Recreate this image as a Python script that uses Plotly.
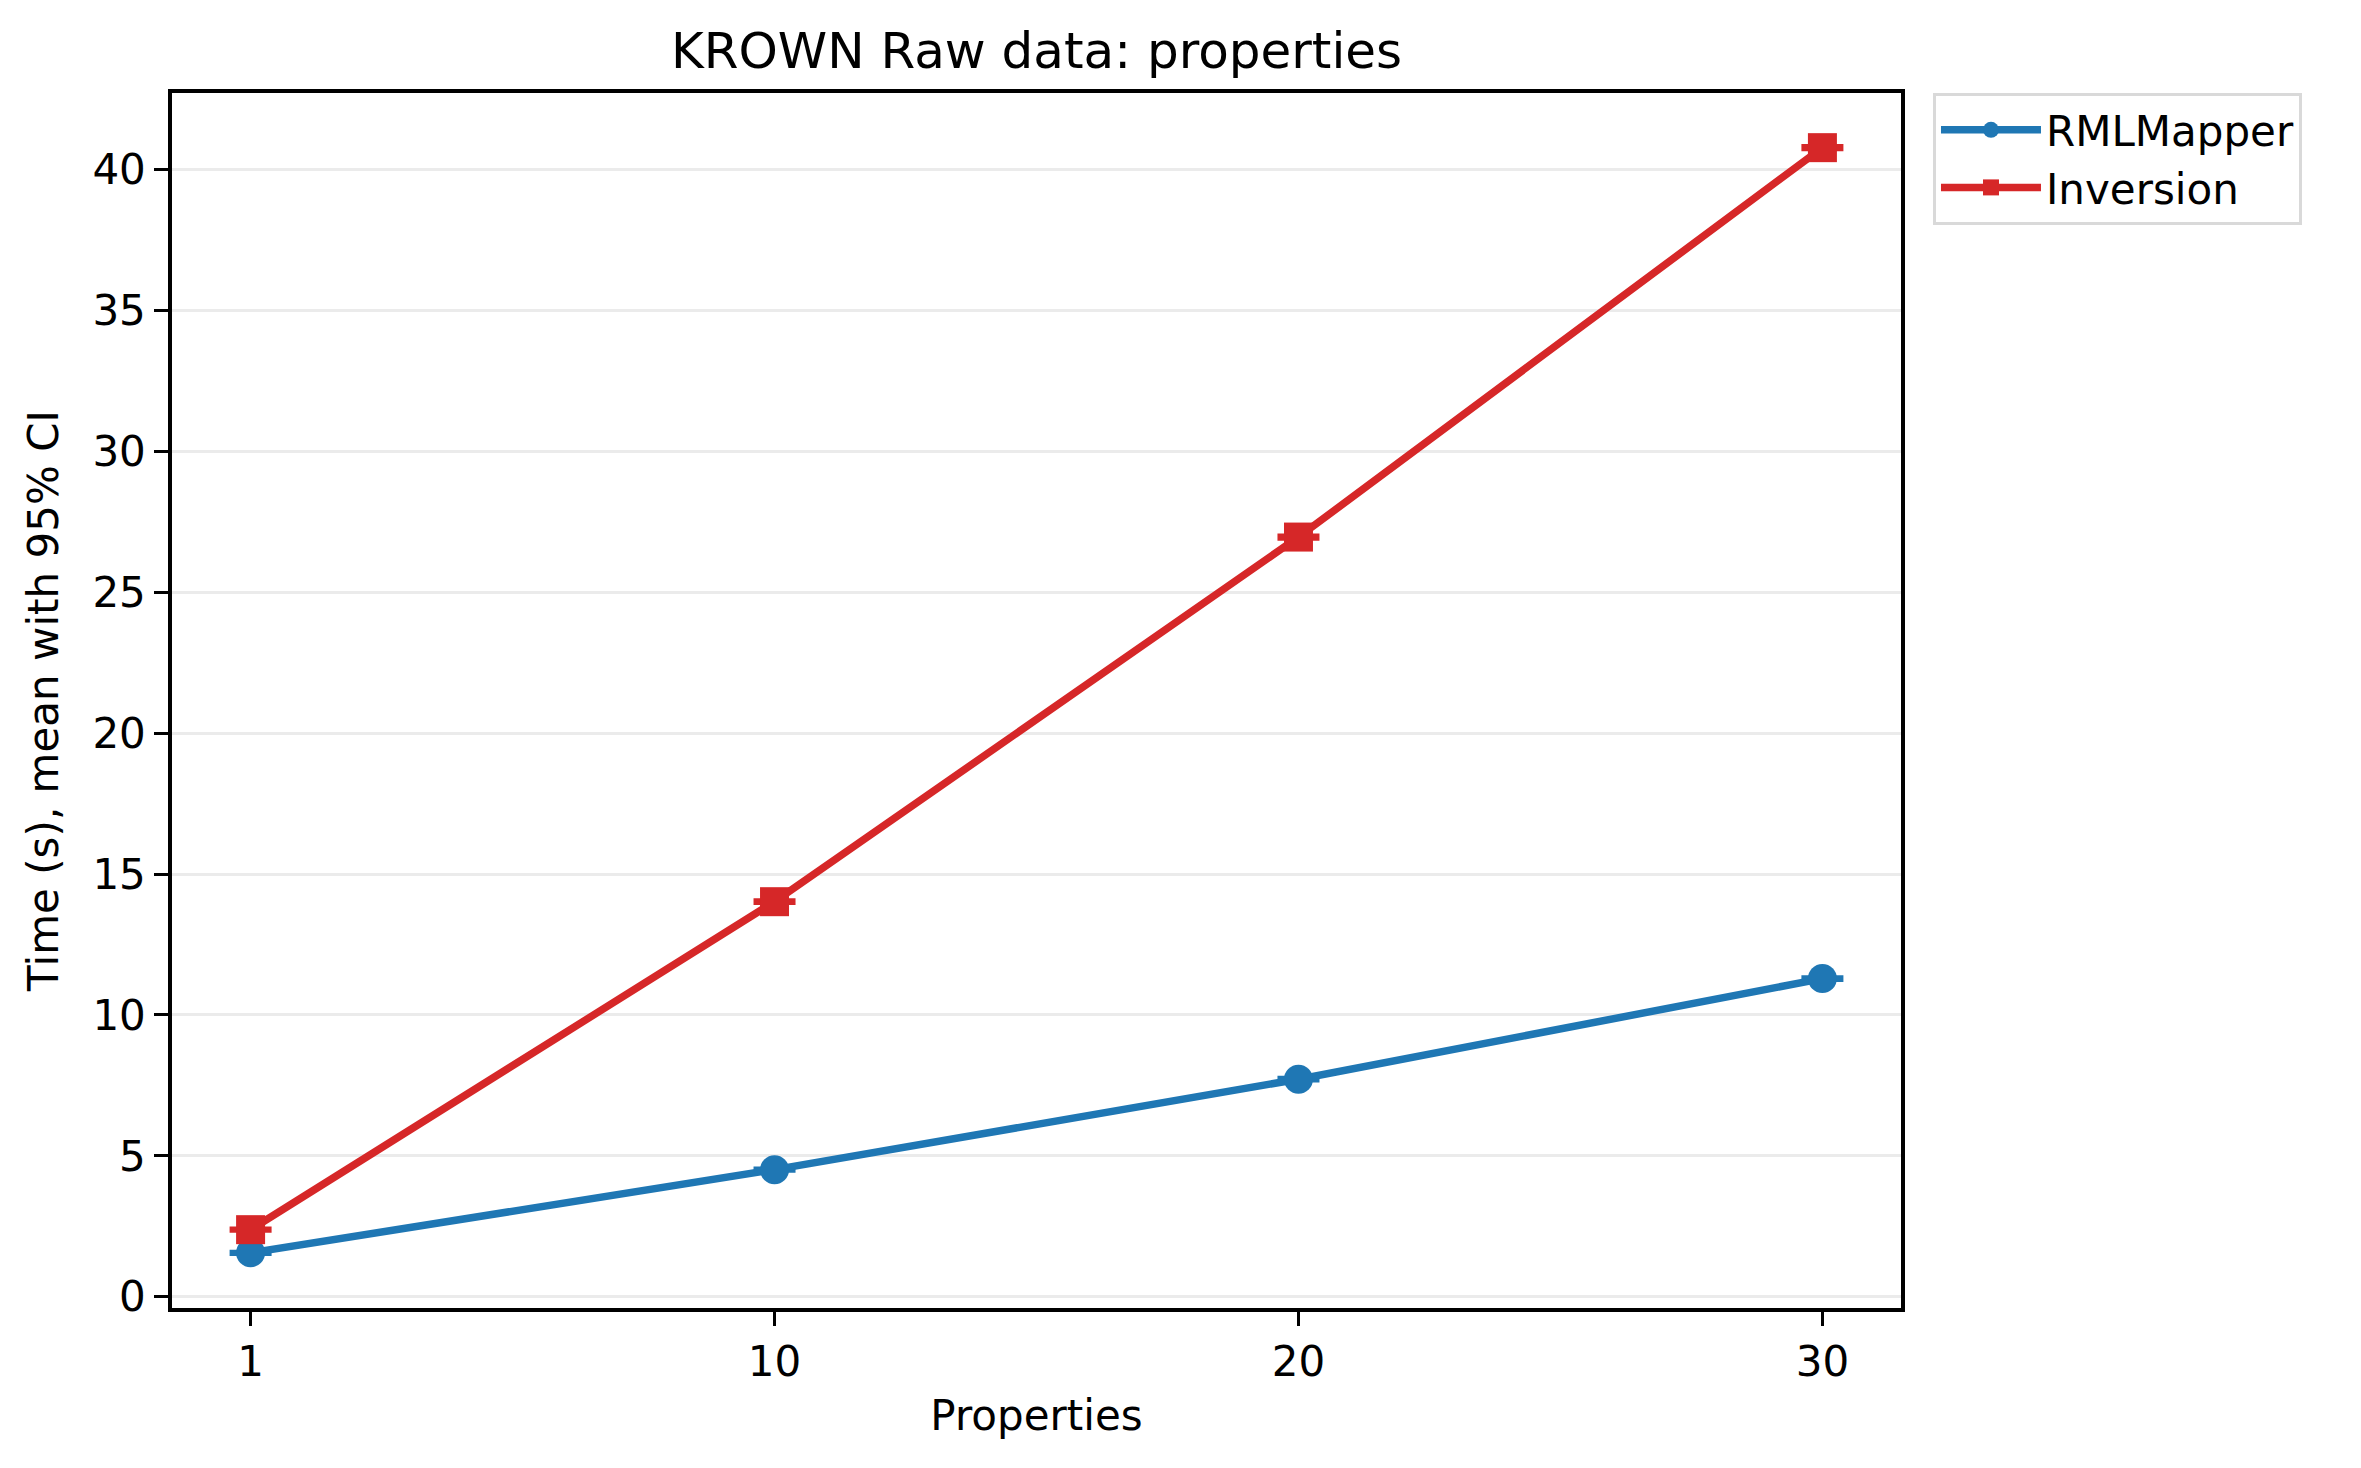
import plotly.graph_objects as go

categories = ["1", "10", "20", "30"]
rml_mean = [1.56, 4.51, 7.72, 11.29]
rml_ci = [0.04, 0.04, 0.05, 0.05]
inv_mean = [2.38, 14.02, 26.96, 40.78]
inv_ci = [0.04, 0.05, 0.06, 0.06]
y_ticks = [0, 5, 10, 15, 20, 25, 30, 35, 40]

W, H = 2361, 1468
L, R, T, B = 172, 460, 93, 160
FONT = "DejaVu Sans"

fig = go.Figure()
fig.add_trace(go.Scatter(
    x=categories, y=rml_mean, name="RMLMapper", mode="lines+markers",
    line=dict(color="#1f77b4", width=7.5),
    marker=dict(symbol="circle", size=29, color="#1f77b4"),
    error_y=dict(type="data", array=rml_ci, visible=True, color="#1f77b4", thickness=4, width=21),
))
fig.add_trace(go.Scatter(
    x=categories, y=inv_mean, name="Inversion", mode="lines+markers",
    line=dict(color="#d62728", width=7.5),
    marker=dict(symbol="square", size=29, color="#d62728"),
    error_y=dict(type="data", array=inv_ci, visible=True, color="#d62728", thickness=4, width=21),
))

fig.update_layout(
    width=W, height=H,
    margin=dict(l=L, r=R, t=T, b=B, autoexpand=False),
    paper_bgcolor="white", plot_bgcolor="white",
    font=dict(family=FONT, size=42, color="black"),
    title=dict(text="KROWN Raw data: properties", x=(L + (W - R)) / 2 / W, xanchor="center",
               y=1 - 50 / H, yanchor="middle", font=dict(size=50, family=FONT)),
    legend=dict(x=1.0185, y=1.0, xanchor="left", yanchor="top",
                bordercolor="#d9d9d9", borderwidth=3, bgcolor="white",
                font=dict(size=42, family=FONT), itemsizing="trace",
                itemwidth=100, tracegroupgap=0),
)
fig.update_xaxes(
    type="category", range=[-0.15, 3.15],
    showline=True, linecolor="black", linewidth=3.5, mirror=True,
    ticks="outside", ticklen=14, tickwidth=3, tickcolor="black",
    showgrid=False, zeroline=False,
    title=dict(text="Properties", font=dict(size=42, family=FONT), standoff=16),
    tickfont=dict(size=42, family=FONT),
)
fig.update_yaxes(
    range=[-0.4, 42.72], tickvals=y_ticks,
    showline=True, linecolor="black", linewidth=3.5, mirror=True,
    ticks="outside", ticklen=14, tickwidth=3, tickcolor="black",
    showgrid=True, gridcolor="#ebebeb", gridwidth=3, zeroline=False,
    title=dict(text="Time (s), mean with 95% CI", font=dict(size=42, family=FONT), standoff=22),
    tickfont=dict(size=42, family=FONT),
)

fig.write_html("out.html")
